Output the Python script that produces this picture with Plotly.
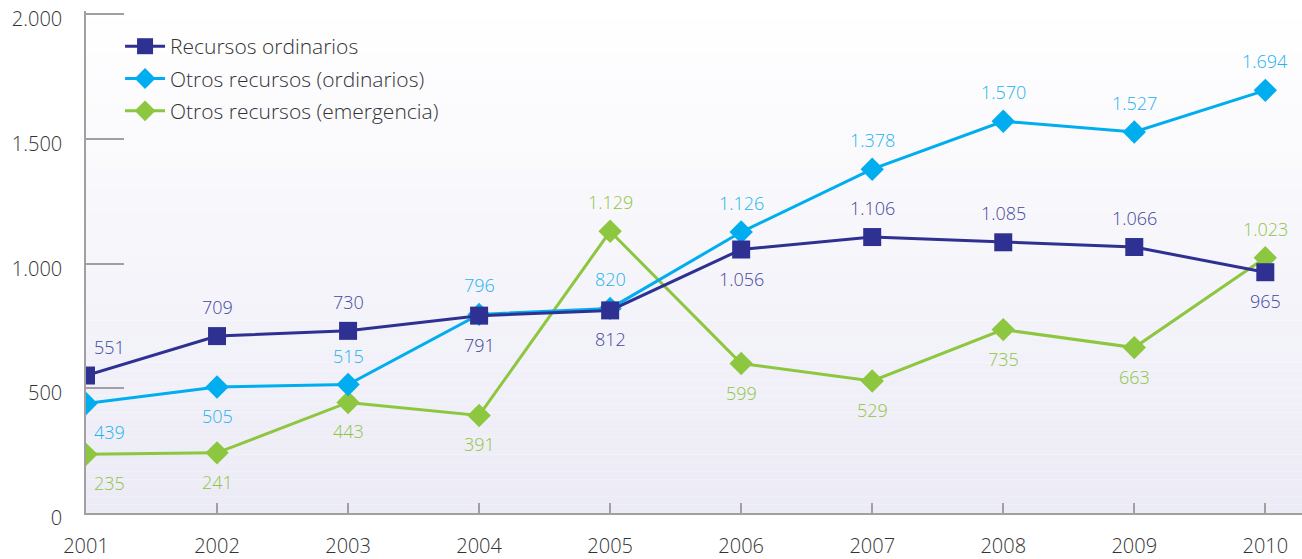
import plotly.graph_objects as go

years = [2001, 2002, 2003, 2004, 2005, 2006, 2007, 2008, 2009, 2010]
recursos_ordinarios = [551, 709, 730, 791, 812, 1056, 1106, 1085, 1066, 965]
otros_ordinarios = [439, 505, 515, 796, 820, 1126, 1378, 1570, 1527, 1694]
otros_emergencia = [235, 241, 443, 391, 1129, 599, 529, 735, 663, 1023]
y_tick_vals = [0, 500, 1000, 1500, 2000]
y_tick_text = ["0", "500", "1.000", "1.500", "2.000"]

# label placement (style): +1 above, -1 below
pos_ro = [1, 1, 1, -1, -1, -1, 1, 1, 1, -1]
pos_oo = [-1, -1, 1, 1, 1, 1, 1, 1, 1, 1]
pos_oe = [-1, -1, -1, -1, 1, -1, -1, -1, -1, 1]

NAVY = "#2E3192"
CYAN = "#00AEEF"
GREEN = "#8DC63F"
NAVY_T = "#45489C"
CYAN_T = "#22B3EE"
GREEN_T = "#8DC63F"
FONT = "Open Sans"
TXT = "#333333"

fig = go.Figure()

series = [
    ("Otros recursos (emergencia)", otros_emergencia, GREEN, "diamond", 18, 3),
    ("Otros recursos (ordinarios)", otros_ordinarios, CYAN, "diamond", 18, 2),
    ("Recursos ordinarios", recursos_ordinarios, NAVY, "square", 18, 1),
]
for name, vals, col, sym, sz, rank in series:
    fig.add_trace(go.Scatter(
        x=years, y=vals, name=name, mode="lines+markers",
        line=dict(color=col, width=3),
        marker=dict(symbol=sym, size=sz, color=col, line=dict(width=0)),
        legendrank=rank, legendgroup=name, hoverinfo="skip",
    ))

def fmt(v):
    return f"{v:,}".replace(",", ".")

annotations = []
for vals, poss, col in [(recursos_ordinarios, pos_ro, NAVY_T),
                        (otros_ordinarios, pos_oo, CYAN_T),
                        (otros_emergencia, pos_oe, GREEN_T)]:
    for i, (x, v, p) in enumerate(zip(years, vals, poss)):
        annotations.append(dict(
            x=x, y=v, xref="x", yref="y", text=fmt(v), showarrow=False,
            font=dict(family=FONT, size=18, color=col, weight=300),
            yshift=29 * p, xshift=(23 if i == 0 else 0),
        ))

# background gradient bands
shapes = []
N = 60
top = (255, 255, 255)
bot = (236, 235, 246)
for k in range(N):
    t = (k + 0.5) / N
    c = tuple(round(top[j] + (bot[j] - top[j]) * (1 - t)) for j in range(3))
    shapes.append(dict(type="rect", xref="paper", yref="paper",
                       x0=0, x1=1, y0=k / N, y1=(k + 1) / N,
                       fillcolor="rgb(%d,%d,%d)" % c, line=dict(width=0),
                       layer="below"))

fig.update_layout(
    width=1302, height=559,
    margin=dict(l=86, r=0, t=11, b=42),
    paper_bgcolor="white", plot_bgcolor="rgba(0,0,0,0)",
    font=dict(family=FONT, size=18, color=TXT, weight=300),
    showlegend=True,
    legend=dict(x=0.028, y=0.970, xanchor="left", yanchor="top",
                bgcolor="rgba(0,0,0,0)", tracegroupgap=2,
                font=dict(family=FONT, size=21, color=TXT, weight=300),
                itemwidth=40),
    annotations=annotations,
    shapes=shapes,
    xaxis=dict(range=[2001, 2010.28], tickvals=years, ticks="inside",
               ticklen=10, tickcolor="#A0A0A0", tickwidth=1.5,
               showline=True, linecolor="#A0A0A0", linewidth=1.5,
               showgrid=False, zeroline=False, ticklabelstandoff=14,
               tickfont=dict(family=FONT, size=20, color=TXT, weight=300)),
    yaxis=dict(range=[0, 2012], tickvals=y_tick_vals, ticktext=y_tick_text,
               ticks="inside", ticklen=38, tickcolor="#A0A0A0", tickwidth=1.5,
               showline=True, linecolor="#A0A0A0", linewidth=1.5,
               showgrid=False, zeroline=False, ticklabelstandoff=18,
               ticklabelshift=5,
               tickfont=dict(family=FONT, size=20, color=TXT, weight=300)),
)

fig.write_html("out.html", config={"displayModeBar": False},
               post_script="document.body.style.margin='0';document.body.style.overflow='hidden';")
